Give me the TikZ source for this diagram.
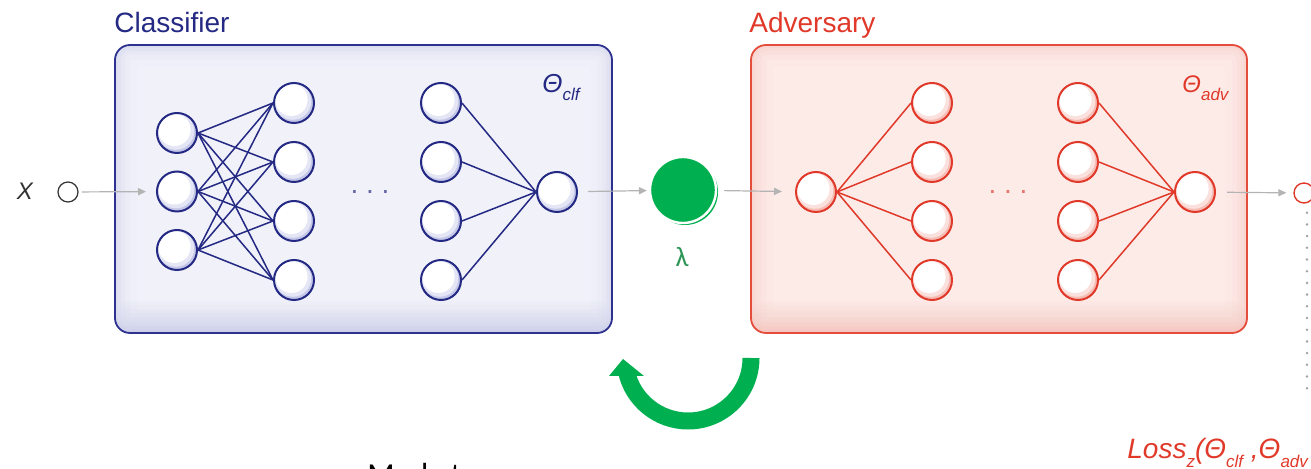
\documentclass[tikz,border=0pt]{standalone}
\usepackage{fontspec}
\setmainfont{Liberation Sans}
\newfontfamily\calibri{Carlito}
\usetikzlibrary{arrows.meta}

% palette
\definecolor{clfline}{HTML}{242983}
\definecolor{clfedge}{HTML}{2D3190}
\definecolor{clffill}{HTML}{F1F2F9}
\definecolor{clfshade}{HTML}{C4C7E8}
\definecolor{advline}{HTML}{E0392A}
\definecolor{advedge}{HTML}{E44C3C}
\definecolor{advfill}{HTML}{FDEBE8}
\definecolor{advshade}{HTML}{F6BDB5}
\definecolor{gatecol}{HTML}{00B050}
\definecolor{lambdacol}{HTML}{2E9657}
\definecolor{flowgray}{HTML}{B4B4B4}
\definecolor{dotgray}{HTML}{A4A4A4}
\definecolor{inkgray}{HTML}{333333}

% lowered subscript used in the parameter labels
\newcommand\lowsub[1]{\raisebox{-0.3em}{\fontsize{8.5}{9}\selectfont #1}}

\tikzset{
  panel/.style={draw=#1edge, fill=#1fill, line width=0.9pt, rounded corners=7.5pt, inner sep=0pt,
    path picture={
      % soft darkening towards the lower edge
      \foreach \h in {2,4,...,16}
        \fill[#1shade, opacity=0.07]
          ([yshift=\h pt]path picture bounding box.south west) rectangle (path picture bounding box.south east);
      % inner glow along the border
      \foreach \w/\o in {22/0.05, 15/0.07, 10/0.09, 6/0.12, 3/0.16}
        \draw[#1shade, line width=\w pt, opacity=\o, rounded corners=7.5pt]
          (path picture bounding box.south west) rectangle (path picture bounding box.north east);
    }},
  neuron/.style={circle, draw=#1line, line width=1pt, minimum size=20pt, inner sep=0pt, fill=white,
    path picture={
      \fill[#1shade] (path picture bounding box.center) circle[radius=10pt];
      \fill[#1shade!45!white] ([shift={(-0.6pt,0.8pt)}]path picture bounding box.center) circle[radius=9.2pt];
      \fill[white] ([shift={(-1.3pt,1.6pt)}]path picture bounding box.center) circle[radius=8.1pt];
    }},
  link/.style={draw=#1line, line width=0.75pt},
  flow/.style={draw=flowgray, line width=0.6pt, -{Triangle[length=4pt, width=3.6pt]}},
  title/.style={anchor=base west, inner sep=0pt, text=#1line, font=\fontsize{14}{16}\selectfont},
  param/.style={anchor=base west, inner sep=0pt, text=#1line, font=\fontsize{13}{15}\selectfont\itshape},
  ellip/.style={anchor=base, inner sep=0pt, text=#1line!70!white, font=\fontsize{14}{16}\selectfont},
}

\begin{document}
\begin{tikzpicture}[x=0.5pt, y=-0.5pt]
\useasboundingbox (0,0) rectangle (1311,469);
\clip (0,0) rectangle (1311,469);

% ---------- classifier ----------
\node[title=clf] (clftitle) at (114,33) {Classifier};
\node[panel=clf, minimum width=248.5pt, minimum height=144pt] (clfbox) at (363.5,189) {};
\node[param=clf] (clftheta) at (542,93) {Θ\lowsub{clf}};

\foreach \y [count=\k] in {133,191.5,250}
  \node[neuron=clf] (ci\k) at (177,\y) {};
\foreach \y [count=\k] in {103,162,221,280} {
  \node[neuron=clf] (ch\k) at (294,\y) {};
  \node[neuron=clf] (cg\k) at (441,\y) {};
}
\node[neuron=clf] (cout) at (557,192) {};
\node[ellip=clf] (cdots) at (370,194) {.\kern3.9pt.\kern3.9pt.};

\foreach \i in {1,2,3}
  \foreach \j in {1,...,4}
    \draw[link=clf] (ci\i.east) -- (ch\j.west);
\foreach \j in {1,...,4}
  \draw[link=clf] (cg\j.east) -- (cout.west);

% ---------- input ----------
\node[anchor=base, inner sep=0pt, text=inkgray, font=\fontsize{12}{14}\selectfont\itshape] (xlabel) at (25,200) {X};
\node[circle, draw=inkgray, line width=0.6pt, minimum size=10pt, inner sep=0pt, fill=white] (xin) at (68,192) {};
\draw[flow, shorten <=1.5pt, shorten >=5pt] (xin) -- (ci2);

% ---------- gate ----------
\fill[gatecol] (685,192) circle[radius=33];
\node[circle, fill=gatecol, draw=white, line width=1.2pt, minimum size=33pt, inner sep=0pt] (gate) at (683,190) {};
\node[inner sep=0pt, text=lambdacol, font=\fontsize{14}{16}\selectfont\calibri] (lambda) at (682,257) {λ};
\draw[flow, shorten <=5pt, shorten >=1pt] (cout) -- (gate);

% ---------- adversary ----------
\node[title=adv] (advtitle) at (749,33) {Adversary};
\node[panel=adv, minimum width=248pt, minimum height=144pt] (advbox) at (999,189) {};
\node[param=adv, font=\fontsize{12}{14}\selectfont\itshape] (advtheta) at (1182,93) {Θ\lowsub{adv}};

\node[neuron=adv] (ai) at (816,192) {};
\foreach \y [count=\k] in {103,162,221,280} {
  \node[neuron=adv] (ah\k) at (932,\y) {};
  \node[neuron=adv] (ag\k) at (1078,\y) {};
}
\node[neuron=adv] (aout) at (1195,192) {};
\node[ellip=adv] (adots) at (1008,194) {.\kern3.9pt.\kern3.9pt.};

\foreach \j in {1,...,4} {
  \draw[link=adv] (ai.east) -- (ah\j.west);
  \draw[link=adv] (ag\j.east) -- (aout.west);
}
\draw[flow, shorten <=3.5pt, shorten >=6.5pt] (gate) -- (ai);

% ---------- loss output ----------
\node[circle, draw=advline, line width=0.7pt, minimum size=10pt, inner sep=0pt, fill=white] (zout) at (1304,193) {};
\draw[flow, shorten <=5.5pt, shorten >=3.5pt] (aout) -- (zout);
\coordinate (zend) at (1307,398);
\draw[dotgray, line width=1.4pt, line cap=round, dash pattern=on 0pt off 5.85pt]
  ([xshift=1.5pt, yshift=-4.5pt]zout.south) -- (zend);
\node[anchor=base west, inner sep=0pt, text=advline, font=\fontsize{14}{16}\selectfont\itshape] (loss) at (1127,459)
  {Loss\lowsub{z}(Θ\lowsub{clf} ,Θ\lowsub{adv}};

% ---------- update arrow ----------
\draw[gatecol, line width=8.5pt] (751,358) arc[start angle=0, end angle=168, radius=63];
\fill[gatecol] (609,376) -- (623,359) -- (644,376) -- cycle;

% ---------- caption ----------
\node[anchor=base west, inner sep=0pt, text=black, font=\fontsize{16}{18}\selectfont\calibri] (caption) at (367,486) {Market};
\end{tikzpicture}
\end{document}
